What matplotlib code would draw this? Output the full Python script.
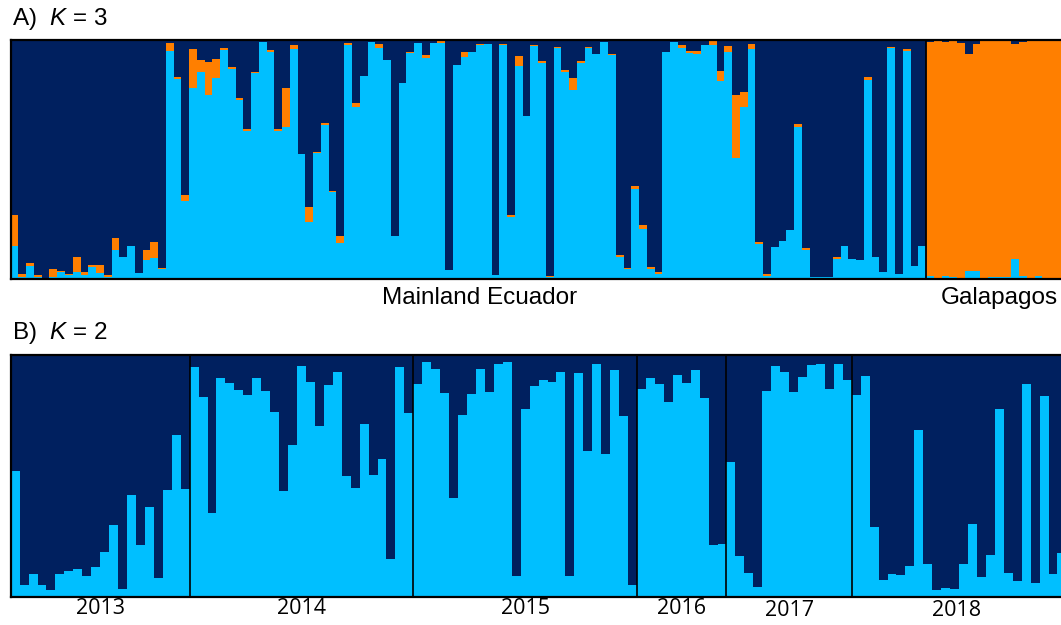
import numpy as np
import matplotlib
matplotlib.use("Agg")
import matplotlib.pyplot as plt

plt.rcParams['font.family'] = ['Liberation Sans', 'DejaVu Sans']
plt.rcParams['mathtext.fontset'] = 'custom'
plt.rcParams['mathtext.rm'] = 'Liberation Sans'
plt.rcParams['mathtext.it'] = 'Liberation Sans:italic'

# ========= 数据 ==================================================
# A) K=3 : 118 个大陆样本 + 18 个加拉帕戈斯样本
cyan_a = [0.136, 0.010, 0.056, 0.010, 0.005, 0.010, 0.028, 0.018, 0.028, 0.018,
          0.050, 0.025, 0.010, 0.120, 0.090, 0.136, 0.025, 0.080, 0.088, 0.040,
          0.954, 0.836, 0.325, 0.798, 0.868, 0.770, 0.840, 0.960, 0.877, 0.750,
          0.620, 0.860, 0.993, 0.950, 0.620, 0.635, 0.962, 0.524, 0.238, 0.526,
          0.645, 0.363, 0.150, 0.980, 0.720, 0.850, 0.993, 0.965, 0.916, 0.178,
          0.820, 0.944, 0.986, 0.926, 0.986, 0.986, 0.036, 0.896, 0.930, 0.950,
          0.980, 0.983, 0.018, 0.980, 0.260, 0.890, 0.680, 0.975, 0.905, 0.010,
          0.965, 0.865, 0.790, 0.905, 0.965, 0.940, 0.990, 0.937, 0.090, 0.042,
          0.376, 0.210, 0.042, 0.020, 0.950, 0.993, 0.965, 0.947, 0.940, 0.980,
          0.980, 0.830, 0.950, 0.506, 0.720, 0.962, 0.148, 0.014, 0.134, 0.160,
          0.206, 0.638, 0.120, 0.008, 0.010, 0.010, 0.084, 0.140, 0.084, 0.080,
          0.833, 0.092, 0.028, 0.965, 0.020, 0.955, 0.053, 0.136,
          # Galapagos
          0.011, 0.004, 0.011, 0.008, 0.004, 0.032, 0.032, 0.004, 0.008, 0.008,
          0.008, 0.084, 0.014, 0.004, 0.014, 0.004, 0.004, 0.006]
orange_a = [0.130, 0.010, 0.011, 0.005, 0.000, 0.030, 0.005, 0.005, 0.063, 0.010,
            0.007, 0.033, 0.005, 0.050, 0.000, 0.000, 0.000, 0.040, 0.067, 0.008,
            0.035, 0.011, 0.028, 0.163, 0.050, 0.140, 0.080, 0.008, 0.011, 0.007,
            0.006, 0.007, 0.000, 0.010, 0.006, 0.163, 0.015, 0.000, 0.065, 0.006,
            0.008, 0.006, 0.032, 0.007, 0.017, 0.000, 0.000, 0.018, 0.000, 0.000,
            0.000, 0.006, 0.000, 0.012, 0.000, 0.010, 0.000, 0.000, 0.018, 0.000,
            0.004, 0.000, 0.000, 0.004, 0.006, 0.045, 0.000, 0.003, 0.008, 0.004,
            0.004, 0.008, 0.050, 0.008, 0.007, 0.000, 0.000, 0.004, 0.010, 0.006,
            0.014, 0.017, 0.008, 0.008, 0.000, 0.000, 0.015, 0.008, 0.014, 0.000,
            0.015, 0.040, 0.023, 0.265, 0.063, 0.020, 0.006, 0.007, 0.000, 0.000,
            0.000, 0.011, 0.010, 0.000, 0.000, 0.000, 0.006, 0.000, 0.000, 0.000,
            0.011, 0.000, 0.000, 0.004, 0.000, 0.006, 0.000, 0.000,
            # Galapagos
            0.982, 0.993, 0.982, 0.987, 0.985, 0.909, 0.951, 0.992, 0.988, 0.988,
            0.988, 0.900, 0.979, 0.992, 0.983, 0.992, 0.992, 0.990]
n_mainland = 118

# B) K=2 : 大陆样本按年份
cyan_b = [0.521, 0.051, 0.097, 0.048, 0.030, 0.097, 0.106, 0.117, 0.086, 0.124,
          0.186, 0.299, 0.034, 0.421, 0.214, 0.370, 0.080, 0.441, 0.669, 0.446,
          # 2014
          0.949, 0.828, 0.349, 0.906, 0.883, 0.855, 0.834, 0.906, 0.851, 0.766,
          0.437, 0.630, 0.956, 0.887, 0.706, 0.876, 0.931, 0.499, 0.452, 0.713,
          0.503, 0.572, 0.156, 0.949, 0.759,
          # 2015
          0.879, 0.972, 0.941, 0.841, 0.411, 0.754, 0.839, 0.941, 0.848, 0.963,
          0.972, 0.086, 0.775, 0.873, 0.897, 0.887, 0.931, 0.086, 0.924, 0.604,
          0.963, 0.590, 0.938, 0.748, 0.048,
          # 2016
          0.859, 0.903, 0.880, 0.804, 0.917, 0.883, 0.938, 0.821, 0.214, 0.221,
          # 2017
          0.556, 0.168, 0.099, 0.041, 0.851, 0.956, 0.931, 0.848, 0.910, 0.959,
          0.963, 0.858, 0.961, 0.897,
          # 2018
          0.834, 0.913, 0.290, 0.072, 0.097, 0.092, 0.127, 0.692, 0.135, 0.028,
          0.037, 0.034, 0.138, 0.303, 0.083, 0.172, 0.775, 0.099, 0.065, 0.880,
          0.058, 0.832, 0.094, 0.183]
years = ['2013', '2014', '2015', '2016', '2017', '2018']
year_counts = [20, 25, 25, 10, 14, 24]
# ====================================================================

navy = '#00205f'
cyan = '#00bfff'
orange = '#ff7f00'

W, H = 1061, 625
fig = plt.figure(figsize=(W / 100, H / 100), dpi=100)


def px_axes(left, top, bottom):
    return fig.add_axes([left / W, 1 - bottom / H, 1 - left / W, (bottom - top) / H])


def frame(ax):
    for s in ['left', 'top', 'bottom']:
        ax.spines[s].set_linewidth(1.6)
        ax.spines[s].set_color('black')
    ax.spines['right'].set_visible(False)
    ax.set_xticks([])
    ax.set_yticks([])
    ax.set_ylim(0, 1)


# ---- A) K = 3 ----
c = np.array(cyan_a)
o = np.array(orange_a)
n = 1 - c - o
x = np.arange(len(c))
axA = px_axes(10.7, 40, 279)
axA.bar(x, c, width=1.0, align='edge', color=cyan, linewidth=0)
axA.bar(x, o, width=1.0, align='edge', bottom=c, color=orange, linewidth=0)
axA.bar(x, n, width=1.0, align='edge', bottom=c + o, color=navy, linewidth=0)
axA.axvline(n_mainland, color='black', lw=1.3)
axA.set_xlim(0, 1050.3 / 7.757)
frame(axA)

# ---- B) K = 2 ----
cb = np.array(cyan_b)
xb = np.arange(len(cb))
axB = px_axes(10.7, 355, 597)
axB.bar(xb, cb, width=1.0, align='edge', color=cyan, linewidth=0)
axB.bar(xb, 1 - cb, width=1.0, align='edge', bottom=cb, color=navy, linewidth=0)
bounds = np.cumsum(year_counts)
for b in bounds[:-1]:
    axB.axvline(b, color='black', lw=1.2)
axB.set_xlim(0, 1050.3 / 8.947)
frame(axB)

# 年份标签
starts = np.concatenate([[0], bounds[:-1]])
ends = np.minimum(bounds, 1050.3 / 8.947)
year_y = [609, 609, 609, 609, 611, 611]
for yr, s, e, yy in zip(years, starts, ends, year_y):
    xc = 10.7 + (s + e) / 2 * 8.947
    fig.text(xc / W, 1 - yy / H, yr, ha='center', va='center',
             fontsize=15.5, family=['Open Sans', 'DejaVu Sans'])

# ---- 文字 ----
fig.text(12 / W, 1 - 19 / H, 'A)  $K$ = 3', ha='left', va='center', fontsize=17.5)
fig.text(12 / W, 1 - 333 / H, 'B)  $K$ = 2', ha='left', va='center', fontsize=17.5)
fig.text(480 / W, 1 - 298 / H, 'Mainland Ecuador', ha='center', va='center', fontsize=17.5)
fig.text(999 / W, 1 - 298 / H, 'Galapagos', ha='center', va='center', fontsize=17.5)

fig.savefig('out.png', dpi=100)
